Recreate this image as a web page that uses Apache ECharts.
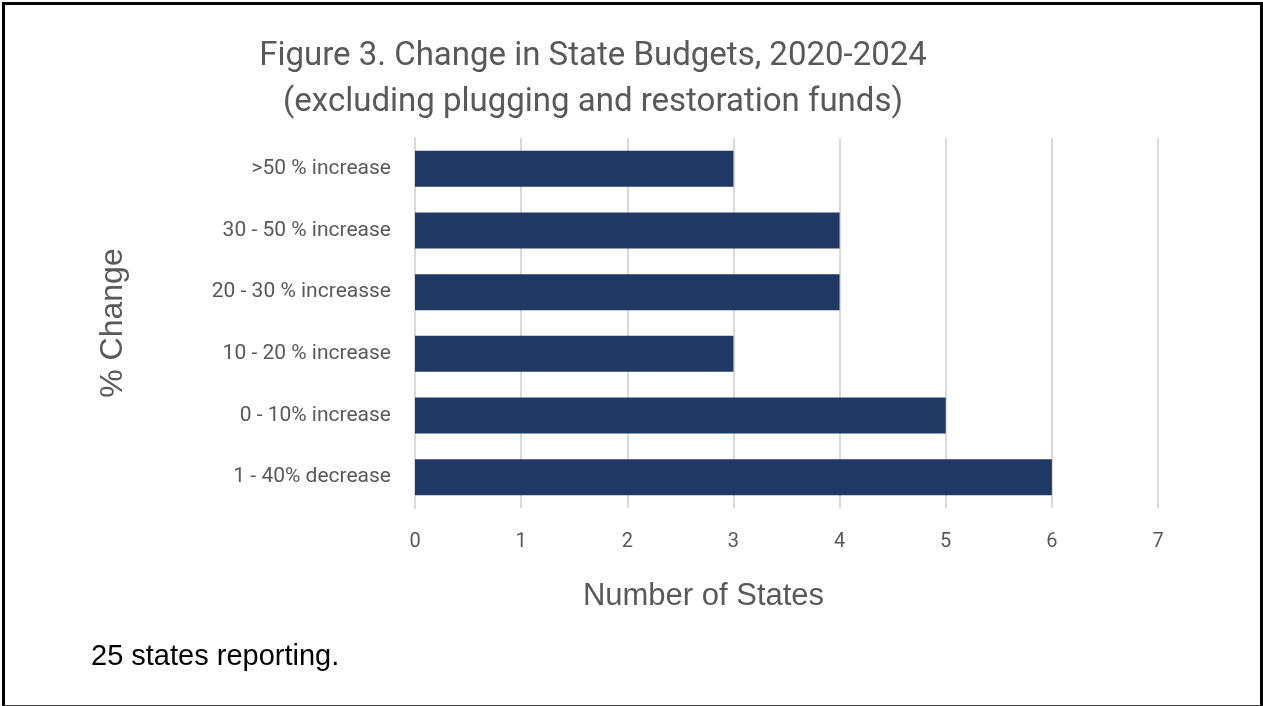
<!DOCTYPE html>
<html>
<head>
<meta charset="utf-8">
<script src="https://cdn.jsdelivr.net/npm/echarts@6/dist/echarts.min.js"></script>
<style>
  html, body { margin: 0; padding: 0; background: #fff; }
  #wrap { position: relative; width: 1263px; height: 706px; }
  #chart { position: absolute; left: 0; top: 0; width: 1263px; height: 706px; }
  #frame {
    position: absolute; left: 2px; top: 2px; width: 1261px; height: 704px;
    box-sizing: border-box; pointer-events: none;
    border-left: 3px solid #000; border-top: 3px solid #000; border-right: 3px solid #000;
    border-bottom: 1px solid #444;
  }
</style>
</head>
<body>
<div id="wrap">
  <div id="chart"></div>
  <div id="frame"></div>
</div>
<script>
// Budget change buckets, listed top to bottom
const categories = [
  '>50 % increase',
  '30 - 50 % increase',
  '20 - 30 % increasse',
  '10 - 20 % increase',
  '0 - 10% increase',
  '1 - 40% decrease'
];
// Number of states in each bucket
const stateCounts = [3, 4, 4, 3, 5, 6];
const xTicks = { min: 0, max: 7, interval: 1 };

const titleLines = ['Figure 3. Change in State Budgets, 2020-2024', '(excluding plugging and restoration funds)'];
const footnote = '25 states reporting.';

const chart = echarts.init(document.getElementById('chart'), null, { renderer: 'canvas' });

const labelFont = 'Roboto, "Noto Sans", sans-serif';
const arialFont = '"Liberation Sans", Arial, sans-serif';

chart.setOption({
  animation: false,
  backgroundColor: '#ffffff',
  title: {
    text: titleLines.join('\n'),
    left: 588,
    top: 29,
    textAlign: 'center',
    textStyle: {
      fontFamily: labelFont,
      fontWeight: 'normal',
      fontSize: 33,
      lineHeight: 46,
      color: '#595959'
    }
  },
  grid: { left: 415, right: 105, top: 138, bottom: 198, containLabel: false },
  xAxis: {
    type: 'value',
    min: xTicks.min,
    max: xTicks.max,
    interval: xTicks.interval,
    name: 'Number of States',
    nameLocation: 'middle',
    nameGap: 73,
    nameTextStyle: { fontFamily: arialFont, fontSize: 31, color: '#595959', padding: [0, 166, 0, 0] },
    axisLine: { show: false },
    axisTick: { show: false },
    axisLabel: { margin: 24, fontFamily: labelFont, fontSize: 20, color: '#595959' },
    splitLine: { show: true, lineStyle: { color: '#d9d9d9', width: 2 } }
  },
  yAxis: {
    type: 'category',
    data: categories,
    inverse: true,
    name: '% Change',
    nameLocation: 'middle',
    nameGap: 286,
    nameRotate: 90,
    nameTextStyle: { fontFamily: arialFont, fontSize: 32, color: '#595959' },
    axisLine: { show: true, lineStyle: { color: '#d9d9d9', width: 2 } },
    axisTick: { show: false },
    axisLabel: { margin: 24, fontFamily: labelFont, fontSize: 21, color: '#595959', padding: [3, 0, 0, 0] }
  },
  series: [{
    type: 'bar',
    data: stateCounts,
    barWidth: 36,
    itemStyle: { color: '#203864' }
  }],
  graphic: [{
    type: 'text',
    x: 91,
    y: 657,
    style: {
      text: footnote,
      fontFamily: arialFont,
      fontSize: 29,
      fill: '#000000',
      textVerticalAlign: 'middle'
    }
  }]
});
</script>
</body>
</html>
